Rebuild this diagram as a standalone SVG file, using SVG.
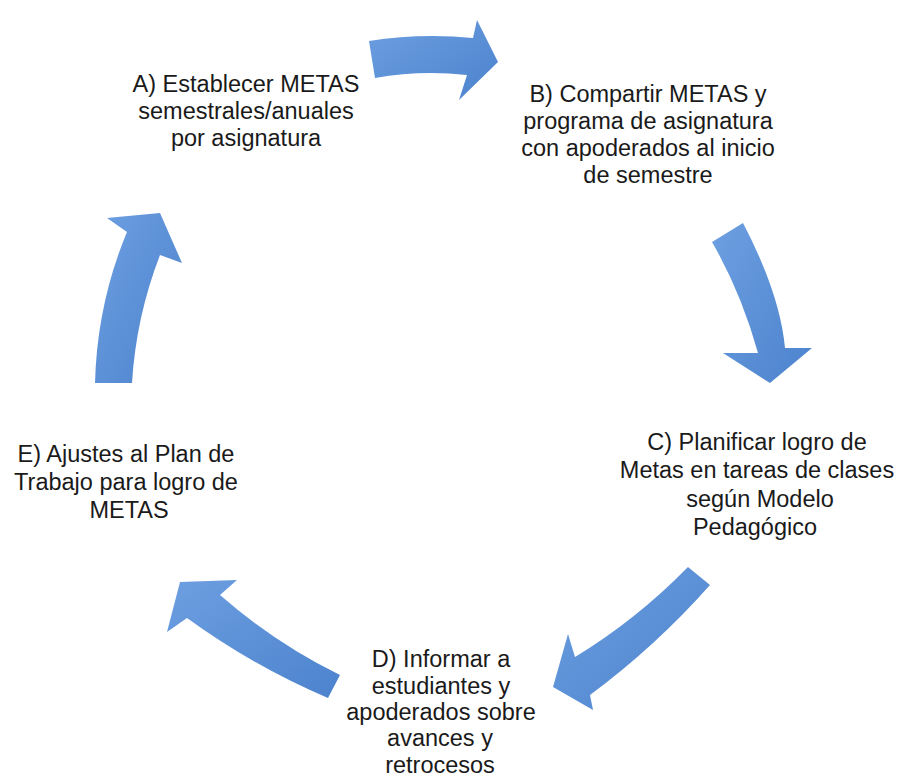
<svg xmlns="http://www.w3.org/2000/svg" width="898" height="781" viewBox="0 0 898 781">
<defs>
<linearGradient id="g" x1="0" y1="0" x2="1" y2="1">
<stop offset="0" stop-color="#6d9fe1"/>
<stop offset="1" stop-color="#4c83cd"/>
</linearGradient>
<style>
text{font-family:"Liberation Sans",Arial,sans-serif;font-size:23.5px;fill:#1a1a1a;text-anchor:middle}
.arr{fill:url(#g);stroke:none}
</style>
</defs>
<rect width="898" height="781" fill="#ffffff"/>
<g id="connectors">
<path class="arr" d="M369,41 Q420,33 473,38 L477,20 L498,62 L459,100 L467,75 Q420,70 375,78 Z"/>
<path class="arr" d="M712,242 L743,223 Q780,294 785,348 L812,348 L770,383 L723,353 L758,353 Q741,292 712,242 Z"/>
<path class="arr" d="M688,567 L710,585 Q656,646 590,695 L593,710 L553,687 L568,634 L575,657 Q636,620 688,567 Z"/>
<path class="arr" d="M340,675 L328,698 Q253,666 187,618 L167,632 L180,582 L237,580 L220,595 Q275,643 340,675 Z"/>
<path class="arr" d="M95,383 L132,383 Q136,317 160,255 L182,263 L160,213 L107,218 L127,232 Q97,304 95,383 Z"/>
</g>
<g id="nodeA">
<text x="246" y="92">A) Establecer METAS</text>
<text x="246" y="119">semestrales/anuales</text>
<text x="246" y="146">por asignatura</text>
</g>
<g id="nodeB">
<text x="648" y="102">B) Compartir METAS y</text>
<text x="648" y="129">programa de asignatura</text>
<text x="648" y="156">con apoderados al inicio</text>
<text x="648" y="183">de semestre</text>
</g>
<g id="nodeC">
<text x="757" y="450">C) Planificar logro de</text>
<text x="757" y="478">Metas en tareas de clases</text>
<text x="760" y="507">según Modelo</text>
<text x="755" y="535">Pedagógico</text>
</g>
<g id="nodeD">
<text x="441" y="667">D) Informar a</text>
<text x="441" y="694">estudiantes y</text>
<text x="441" y="720">apoderados sobre</text>
<text x="440" y="746">avances y</text>
<text x="440" y="773">retrocesos</text>
</g>
<g id="nodeE">
<text x="126" y="462">E) Ajustes al Plan de</text>
<text x="126" y="490">Trabajo para logro de</text>
<text x="129" y="518">METAS</text>
</g>
</svg>
